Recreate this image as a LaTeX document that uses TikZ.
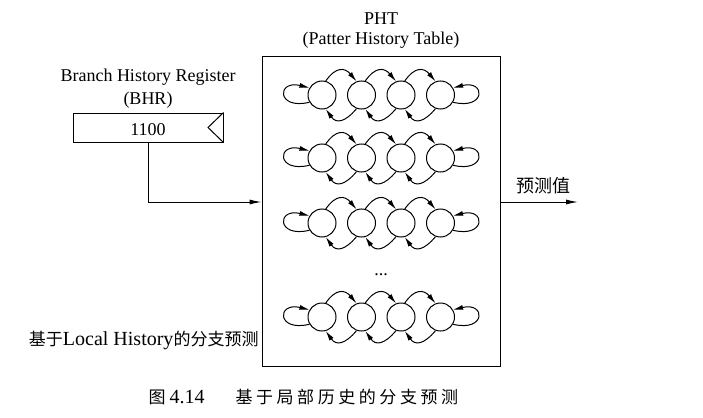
\documentclass[tikz,border=0pt]{standalone}
\usepackage{fontspec}
\setmainfont{Liberation Serif}
\newfontfamily\cjk{Noto Sans CJK SC}
\newfontfamily\cjkcap[LetterSpace=21]{Noto Sans CJK SC}
\usetikzlibrary{arrows.meta}
\begin{document}
\begin{tikzpicture}[x=1pt,y=1pt,line width=1pt,
  state/.style={circle,draw,minimum size=28pt,inner sep=0pt},
  tip/.style={-{Latex[length=12pt,width=5pt]}},
  stip/.style={-{Latex[length=10pt,width=5pt]}},
  txt/.style={font=\fontsize{18}{20}\selectfont,inner sep=0pt},
  cjktxt/.style={font=\cjk\fontsize{18}{20}\selectfont,inner sep=0pt},
  box/.style={draw,inner sep=0pt}]
\useasboundingbox (0,0) rectangle (703,-417);
% PHT table
\node[box,minimum width=238pt,minimum height=309pt] (pht) at (381,-211.5) {};
\node[txt,anchor=base] (phtt) at (381,-25) {PHT};
\node[txt,anchor=base] (phtn) at (381,-45) {(Patter History Table)};
% BHR
\node[txt,anchor=base] (brt) at (148,-82) {Branch History Register};
\node[txt,anchor=base] (bhrt) at (148,-104) {(BHR)};
\node[box,minimum width=150pt,minimum height=29pt] (bhr) at (148,-127.5) {};
\node[txt,anchor=base] (bhrv) at (148,-135) {1100};
\coordinate (clk) at (208,-127.5);
\draw (bhr.north east) -- (clk) -- (bhr.south east);
\coordinate (bend) at (0,-202);
\draw[tip] (bhr.south) |- (pht.west |- bend);
% output
\coordinate (outp) at (578,-202);
\draw[tip] (pht.east |- outp) -- (outp);
\node[cjktxt,anchor=base] (pred) at (543,-192) {预测值};
% state machine rows
\foreach \r/\y in {1/95,2/158,3/223,4/317}{
  \foreach \i/\x in {1/322,2/361.5,3/401,4/440.5}
    \node[state] (s\r\i) at (\x,-\y) {};
  \foreach \i/\j in {1/2,2/3,3/4}{
    \draw[stip] (s\r\i.75) to[out=55,in=130,looseness=1.5] (s\r\j.110);
    \draw[stip] (s\r\j.250) to[out=230,in=305,looseness=1.5] (s\r\i.285);
  }
  \draw[stip] (s\r1.210) .. controls +(-33,-8) and +(-33,8) .. (s\r1.150);
  \draw[stip] (s\r4.330) .. controls +(33,-8) and +(33,8) .. (s\r4.30);
}
\node[txt,anchor=base] (dots) at (381,-275) {...};
% labels
\node[inner sep=0pt,anchor=base east] (local) at (259,-345)
  {{\cjk\fontsize{17}{20}\selectfont 基于}{\fontsize{20}{22}\selectfont Local History}{\cjk\fontsize{17}{20}\selectfont 的分支预测}};
\node[inner sep=0pt,anchor=base west] (cap) at (148,-403)
  {\makebox[21pt][l]{\cjk\fontsize{17}{20}\selectfont 图}\makebox[66pt][l]{\fontsize{20}{22}\selectfont 4.14}{\cjkcap\fontsize{17}{20}\selectfont 基于局部历史的分支预测}};
\end{tikzpicture}
\end{document}
